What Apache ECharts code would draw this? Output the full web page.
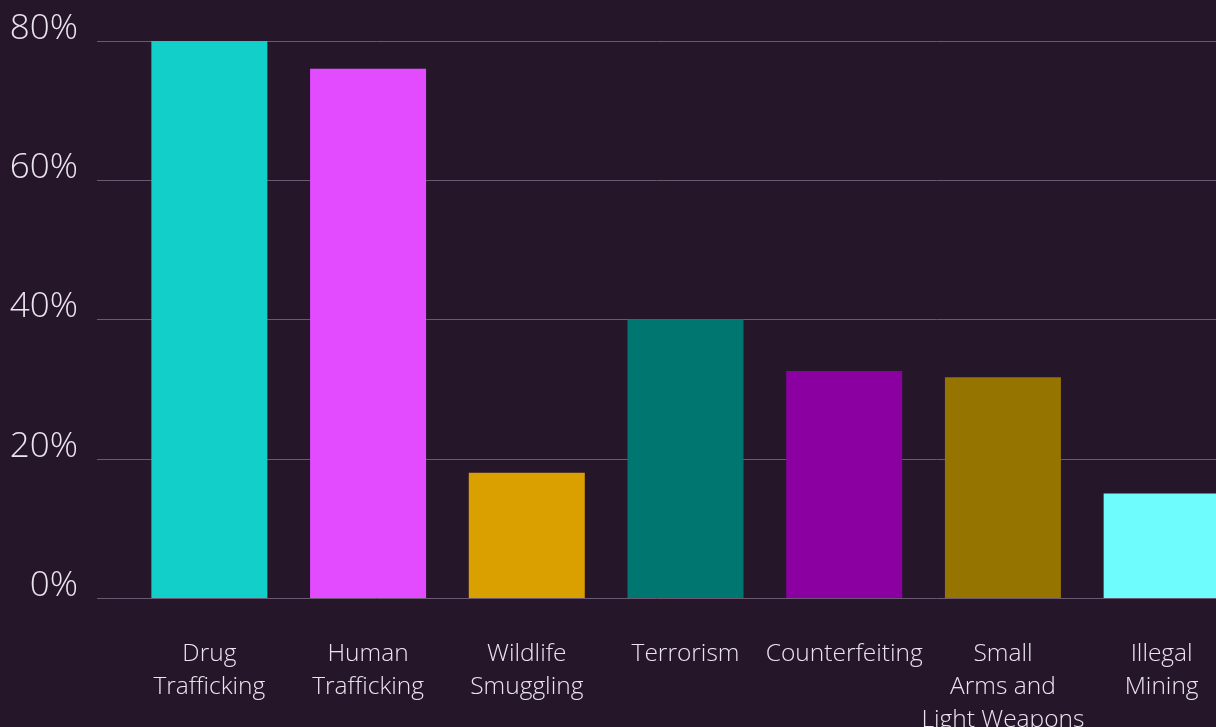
<!DOCTYPE html>
<html><head><meta charset="utf-8">
<script src="https://cdn.jsdelivr.net/npm/echarts@6/dist/echarts.min.js"></script>
<style>html,body{margin:0;padding:0;background:#26162a;}#c{width:1216px;height:727px;}</style>
</head><body><div id="c"></div>
<script>
const categories = ["Drug\nTrafficking","Human\nTrafficking","Wildlife\nSmuggling","Terrorism","Counterfeiting","Small\nArms and\nLight Weapons","Illegal\nMining"];
const values = [80, 76, 18, 40, 32.6, 31.7, 15];
const colors = ["#12cfc9","#e24bff","#d9a000","#007670","#8a00a1","#967400","#6ffcfc"];
const yTicks = [0, 20, 40, 60, 80];

const chart = echarts.init(document.getElementById('c'), null, {renderer:'canvas'});
const font = "'Open Sans', sans-serif";
chart.setOption({
  backgroundColor: '#26162a',
  animation: false,
  grid: [
    {left: 97, right: 0, top: 41, bottom: 129, outerBoundsMode: 'none', containLabel: false},
    {left: 130, right: -25, top: 41, bottom: 129, outerBoundsMode: 'none', containLabel: false}
  ],
  xAxis: [
    {gridIndex: 0, type: 'value', show: false, min: 0, max: 1},
    {gridIndex: 1, type: 'category', data: categories,
     axisLine: {show: false}, axisTick: {show: false},
     axisLabel: {color: '#ece4ee', fontFamily: font, fontWeight: 300, fontSize: 24.5, lineHeight: 33, margin: 40, interval: 0}}
  ],
  yAxis: [
    {gridIndex: 0, type: 'value', min: yTicks[0], max: yTicks[yTicks.length-1], interval: 20,
     axisLine: {show: false}, axisTick: {show: false},
     splitLine: {lineStyle: {color: '#6b5a6f', width: 1}},
     axisLabel: {color: '#ece4ee', fontFamily: font, fontWeight: 300, fontSize: 35, margin: 19,
       verticalAlign: 'bottom', lineHeight: 24, formatter: v => v + '%'}},
    {gridIndex: 1, type: 'value', min: yTicks[0], max: yTicks[yTicks.length-1], show: false}
  ],
  series: [{
    type: 'bar', xAxisIndex: 1, yAxisIndex: 1, barWidth: 116,
    data: values.map((v, i) => ({value: v, itemStyle: {color: colors[i]}}))
  }]
});
</script></body></html>
